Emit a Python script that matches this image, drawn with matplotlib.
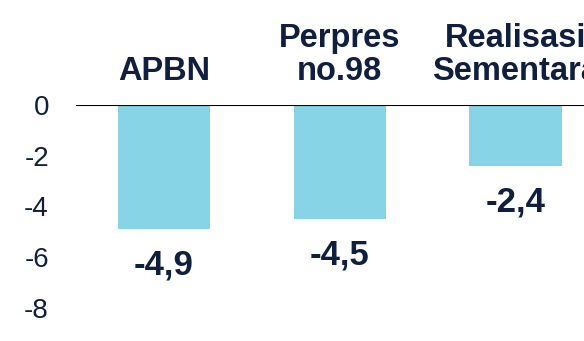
import matplotlib.pyplot as plt

# Defisit anggaran (% PDB)
categories = ["APBN", "Perpres\nno.98", "Realisasi\nSementara"]
values = [-4.9, -4.5, -2.4]
value_labels = ["-4,9", "-4,5", "-2,4"]
yticks = [0, -2, -4, -6, -8]

navy = "#0f1f3d"
bar_color = "#87d4e6"

plt.rcParams["font.family"] = ["Liberation Sans", "DejaVu Sans"]

fig = plt.figure(figsize=(5.84, 3.41), dpi=100)
ax = fig.add_axes([76 / 584, 33 / 341, 1 - 76 / 584, 203 / 341])

x = range(len(categories))
ax.bar(x, values, width=0.525, color=bar_color, zorder=2)
ax.axhline(0, color="black", linewidth=1.5, zorder=3)

for xi, cat in zip(x, categories):
    ax.text(xi, 0.72, cat, ha="center", va="bottom", fontsize=23.5,
            fontweight="bold", color=navy, linespacing=1.08, clip_on=False)

for xi, v, lab in zip(x, values, value_labels):
    ax.annotate(lab, (xi, v), xytext=(0, -14), textcoords="offset points",
                ha="center", va="top", fontsize=25, fontweight="bold",
                color=navy)

ax.set_xlim(-0.5, 2.39)
ax.set_ylim(-8, 0)
ax.set_yticks(yticks)
ax.set_yticklabels([str(t) for t in yticks])
ax.set_xticks([])
ax.tick_params(axis="y", length=0, pad=19.5, labelsize=20, labelcolor=navy)
for s in ax.spines.values():
    s.set_visible(False)

fig.savefig("out.png", dpi=100)
